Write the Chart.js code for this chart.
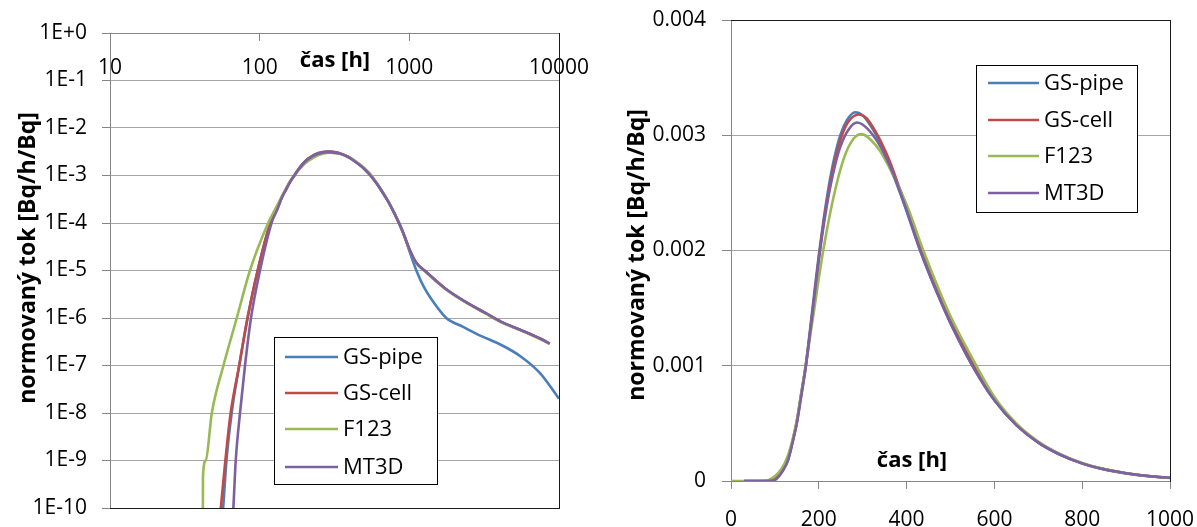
<!DOCTYPE html>
<html><head><meta charset="utf-8">
<script src="https://cdn.jsdelivr.net/npm/chart.js@4.4.1/dist/chart.umd.min.js"></script>
<style>
html,body{margin:0;padding:0;background:#fff;}
#wrap{position:relative;width:1197px;height:527px;overflow:hidden;background:#fff;}
#c1{position:absolute;left:0;top:0;}
#c2{position:absolute;left:600px;top:0;}
</style></head><body>
<div id="wrap"><canvas id="c1" width="600" height="527"></canvas><canvas id="c2" width="597" height="527"></canvas></div>
<script>
// ---------- data ----------
const seriesNames = ['GS-pipe', 'GS-cell', 'F123', 'MT3D'];

const tPipe = [30, 50, 57, 60, 65, 73, 83, 97, 118, 130, 141, 150, 160, 170, 180, 190, 200, 211, 222, 234, 249, 264, 283, 302, 325, 340, 360, 385, 400, 431, 473, 500, 550, 600, 650, 700, 750, 800, 850, 900, 950, 1000, 1114, 1250, 1402, 1765, 2268, 3055, 4120, 5550, 7470, 10000];
const vPipe = [0, 1e-12, 1e-10, 1e-9, 1e-8, 1e-7, 1e-6, 1e-5, 1e-4, 1.9e-4, 3.6e-4, 5.2e-4, 7.6e-4, 1.0e-3, 1.31e-3, 1.64e-3, 1.96e-3, 2.27e-3, 2.54e-3, 2.78e-3, 3.0e-3, 3.13e-3, 3.2e-3, 3.165e-3, 3.04e-3, 2.93e-3, 2.75e-3, 2.5e-3, 2.34e-3, 2.0e-3, 1.6e-3, 1.37e-3, 1.0e-3, 7.0e-4, 4.85e-4, 3.33e-4, 2.27e-4, 1.52e-4, 1.01e-4, 6.6e-5, 4.2e-5, 2.6e-5, 1.0e-5, 4.5e-6, 2.5e-6, 1.0e-6, 6.6e-7, 4.1e-7, 2.7e-7, 1.55e-7, 6.9e-8, 2.0e-8];

const tCell = [30, 48, 55, 59, 64, 73, 83, 97, 118, 130, 141, 150, 160, 170, 180, 190, 200, 212, 224, 236, 251, 266, 291, 308, 328, 342, 362, 386, 402, 432, 474, 502, 552, 600, 650, 700, 750, 800, 850, 900, 950, 1000, 1114, 1265, 1720, 2337, 3245, 4120, 5550, 7470, 8670];
const vCell = [0, 1e-12, 1e-10, 1e-9, 1e-8, 1e-7, 1e-6, 1e-5, 1e-4, 1.9e-4, 3.55e-4, 5.1e-4, 7.5e-4, 9.9e-4, 1.29e-3, 1.61e-3, 1.93e-3, 2.27e-3, 2.54e-3, 2.77e-3, 2.98e-3, 3.11e-3, 3.18e-3, 3.15e-3, 3.04e-3, 2.94e-3, 2.77e-3, 2.52e-3, 2.36e-3, 2.02e-3, 1.62e-3, 1.38e-3, 1.01e-3, 7.1e-4, 4.9e-4, 3.37e-4, 2.3e-4, 1.54e-4, 1.03e-4, 6.8e-5, 4.35e-5, 2.85e-5, 1.45e-5, 1.0e-5, 4.3e-6, 2.26e-6, 1.26e-6, 8.3e-7, 5.6e-7, 3.7e-7, 2.9e-7];

const tF123 = [0, 41.6, 41.8, 43.6, 47.9, 57.3, 70.3, 86.1, 114, 130, 141, 150, 160, 170, 180, 190, 200, 211, 234, 257, 279, 298, 321, 340, 362, 388, 404, 436, 478, 505, 556, 600, 650, 700, 750, 800, 850, 900, 950, 1000, 1114, 1265, 1720, 2337, 3245, 4120, 5550, 7470, 8670];
const vF123 = [0, 1e-12, 4.6e-10, 1e-9, 1e-8, 1e-7, 1e-6, 1e-5, 1e-4, 2.25e-4, 3.7e-4, 5.3e-4, 7.6e-4, 9.9e-4, 1.25e-3, 1.5e-3, 1.76e-3, 2.02e-3, 2.47e-3, 2.8e-3, 2.97e-3, 3.01e-3, 2.95e-3, 2.86e-3, 2.71e-3, 2.5e-3, 2.36e-3, 2.02e-3, 1.62e-3, 1.39e-3, 1.02e-3, 7.3e-4, 5.0e-4, 3.42e-4, 2.33e-4, 1.56e-4, 1.04e-4, 6.8e-5, 4.35e-5, 2.85e-5, 1.42e-5, 9.8e-6, 4.2e-6, 2.2e-6, 1.23e-6, 8.1e-7, 5.5e-7, 3.6e-7, 2.85e-7];

const tMT3D = [30, 60, 66.7, 69.2, 73.9, 79.8, 87.5, 100.5, 120, 130, 141, 150, 160, 170, 180, 190, 200, 212, 224, 237, 249, 268, 287, 310, 336, 360, 385, 400, 431, 473, 500, 550, 600, 650, 700, 750, 800, 850, 900, 950, 1000, 1114, 1265, 1720, 2337, 3245, 4120, 5550, 7470, 8670];
const vMT3D = [0, 1e-12, 1e-10, 1e-9, 1e-8, 1e-7, 1e-6, 1e-5, 1e-4, 1.8e-4, 3.45e-4, 5.0e-4, 7.35e-4, 9.8e-4, 1.28e-3, 1.6e-3, 1.92e-3, 2.24e-3, 2.51e-3, 2.74e-3, 2.9e-3, 3.05e-3, 3.11e-3, 3.06e-3, 2.93e-3, 2.75e-3, 2.51e-3, 2.35e-3, 2.0e-3, 1.6e-3, 1.37e-3, 1.0e-3, 7.0e-4, 4.85e-4, 3.33e-4, 2.28e-4, 1.53e-4, 1.02e-4, 6.8e-5, 4.35e-5, 2.85e-5, 1.45e-5, 1.0e-5, 4.3e-6, 2.26e-6, 1.26e-6, 8.3e-7, 5.6e-7, 3.7e-7, 2.9e-7];

// tick values / labels
const logXTicks = [10, 100, 1000, 10000];
const logXTickLabels = ['10', '100', '1000', '10000'];
const logYTicks = [1, 1e-1, 1e-2, 1e-3, 1e-4, 1e-5, 1e-6, 1e-7, 1e-8, 1e-9, 1e-10];
const logYTickLabels = ['1E+0', '1E-1', '1E-2', '1E-3', '1E-4', '1E-5', '1E-6', '1E-7', '1E-8', '1E-9', '1E-10'];
const linXTicks = [0, 200, 400, 600, 800, 1000];
const linXTickLabels = ['0', '200', '400', '600', '800', '1000'];
const linYTicks = [0, 0.001, 0.002, 0.003, 0.004];
const linYTickLabels = ['0', '0.001', '0.002', '0.003', '0.004'];

const xTitle = 'čas [h]';
const yTitle = 'normovaný tok [Bq/h/Bq]';

// ---------- styles ----------
const seriesColors = ['#4A7EBB', '#BE4B48', '#98B954', '#7D60A0'];
const FONT = '"Open Sans", sans-serif';
Chart.defaults.font.family = FONT;
Chart.defaults.color = '#000';

const seriesT = [tPipe, tCell, tF123, tMT3D];
const seriesV = [vPipe, vCell, vF123, vMT3D];

function makeDatasets(logMode) {
  return seriesNames.map((name, i) => {
    let pts = seriesT[i].map((t, j) => ({ x: t, y: seriesV[i][j] }));
    if (logMode) pts = pts.filter(p => p.x > 0 && p.y > 0);
    return {
      label: name,
      data: pts,
      borderColor: seriesColors[i],
      backgroundColor: seriesColors[i],
      borderWidth: 2.6,
      pointRadius: 0,
      fill: false,
      tension: 0.4,
      cubicInterpolationMode: 'monotone',
      order: seriesNames.length - i
    };
  });
}

function noPad(s) { s.paddingTop = 0; s.paddingBottom = 0; s.paddingLeft = 0; s.paddingRight = 0; }

const overlay = {
  id: 'overlay',
  beforeDatasetsDraw(chart, args, o) {
    const { ctx, chartArea: a } = chart;
    ctx.save();
    ctx.strokeStyle = '#1a1a1a';
    ctx.lineWidth = 1;
    ctx.beginPath();
    (o.frame || []).forEach(s => {
      if (s === 'right') { const x = Math.round(a.right) + 0.5; ctx.moveTo(x, a.top); ctx.lineTo(x, a.bottom + 1); }
      if (s === 'bottom') { const y = Math.round(a.bottom) + 0.5; ctx.moveTo(a.left, y); ctx.lineTo(a.right + 1, y); }
      if (s === 'top') { const y = Math.round(a.top) + 0.5; ctx.moveTo(a.left, y); ctx.lineTo(a.right + 1, y); }
    });
    ctx.stroke();
    ctx.restore();
  },
  afterDraw(chart, args, o) {
    const { ctx } = chart;
    ctx.save();
    ctx.fillStyle = '#000';
    ctx.font = 'bold ' + o.xTitle.size + 'px ' + FONT;
    ctx.textAlign = 'center';
    ctx.textBaseline = 'alphabetic';
    ctx.fillText(o.xTitle.text, o.xTitle.x, o.xTitle.y);
    ctx.save();
    ctx.translate(o.yTitle.x, o.yTitle.y);
    ctx.rotate(-Math.PI / 2);
    ctx.font = 'bold ' + o.yTitle.size + 'px ' + FONT;
    ctx.textAlign = 'center';
    ctx.textBaseline = 'middle';
    ctx.fillText(o.yTitle.text, 0, 0);
    ctx.restore();
    const L = o.legend;
    ctx.fillStyle = '#fff';
    ctx.fillRect(L.x, L.y, L.w, L.h);
    ctx.strokeStyle = '#000';
    ctx.lineWidth = 1;
    ctx.strokeRect(L.x + 0.5, L.y + 0.5, L.w, L.h);
    ctx.font = L.size + 'px ' + FONT;
    ctx.textAlign = 'left';
    ctx.textBaseline = 'middle';
    chart.data.datasets.forEach((ds, i) => {
      const y = L.rows[i];
      ctx.strokeStyle = ds.borderColor;
      ctx.lineWidth = 2.6;
      ctx.beginPath();
      ctx.moveTo(L.x1, y);
      ctx.lineTo(L.x2, y);
      ctx.stroke();
      ctx.fillStyle = '#000';
      ctx.fillText(ds.label, L.tx, y + 1);
    });
    ctx.restore();
  }
};

const GRID = '#a6a6a6';
const AXIS = '#868686';
const TICKFONT = { size: 21, lineHeight: 1.2 };

// ---------- left chart (log-log) ----------
new Chart(document.getElementById('c1'), {
  type: 'line',
  data: { datasets: makeDatasets(true) },
  plugins: [overlay],
  options: {
    responsive: false,
    animation: false,
    devicePixelRatio: 1,
    layout: { padding: { left: 0, top: 33, right: 41, bottom: 19 } },
    plugins: {
      legend: { display: false },
      tooltip: { enabled: false },
      overlay: {
        frame: ['right', 'bottom'],
        xTitle: { text: xTitle, x: 335, y: 67, size: 22 },
        yTitle: { text: yTitle, x: 28, y: 258, size: 23 },
        legend: { x: 274, y: 337, w: 163, h: 147, rows: [357, 393, 429, 467], x1: 285, x2: 338, tx: 343, size: 22 }
      }
    },
    scales: {
      x: {
        type: 'logarithmic', min: 10, max: 10000, position: { y: 1 },
        afterBuildTicks: s => { s.ticks = logXTicks.map(v => ({ value: v })); },
        afterFit: s => { noPad(s); },
        ticks: { autoSkip: false, maxRotation: 0, padding: 15, font: TICKFONT, color: '#000',
                 callback: v => logXTickLabels[logXTicks.indexOf(v)] },
        grid: { drawOnChartArea: false, drawTicks: true, tickLength: 7, color: AXIS, tickColor: AXIS },
        border: { display: true, color: AXIS }
      },
      y: {
        type: 'logarithmic', min: 1e-10, max: 1, position: 'left',
        afterBuildTicks: s => { s.ticks = logYTicks.map(v => ({ value: v })); },
        afterFit: s => { s.width = 110; noPad(s); },
        ticks: { autoSkip: false, padding: 15, font: TICKFONT, color: '#000',
                 callback: v => logYTickLabels[logYTicks.indexOf(v)] },
        grid: { color: GRID, tickColor: AXIS, tickLength: 8, drawTicks: true },
        border: { display: true, color: AXIS }
      }
    }
  }
});

// ---------- right chart (linear) ----------
new Chart(document.getElementById('c2'), {
  type: 'line',
  data: { datasets: makeDatasets(false) },
  plugins: [overlay],
  options: {
    responsive: false,
    animation: false,
    devicePixelRatio: 1,
    layout: { padding: { left: 0, top: 20, right: 27, bottom: 0 } },
    plugins: {
      legend: { display: false },
      tooltip: { enabled: false },
      overlay: {
        frame: ['top', 'right'],
        xTitle: { text: xTitle, x: 312, y: 467, size: 22 },
        yTitle: { text: yTitle, x: 37, y: 255, size: 23 },
        legend: { x: 376, y: 65, w: 161, h: 147, rows: [83, 120, 156, 193], x1: 388, x2: 439, tx: 444, size: 22 }
      }
    },
    scales: {
      x: {
        type: 'linear', min: 0, max: 1000, position: 'bottom',
        afterBuildTicks: s => { s.ticks = linXTicks.map(v => ({ value: v })); },
        afterFit: s => { s.height = 46; noPad(s); },
        ticks: { autoSkip: false, maxRotation: 0, padding: 18, font: TICKFONT, color: '#000',
                 callback: v => linXTickLabels[linXTicks.indexOf(v)] },
        grid: { drawOnChartArea: false, drawTicks: true, tickLength: 8, color: AXIS, tickColor: AXIS },
        border: { display: true, color: AXIS }
      },
      y: {
        type: 'linear', min: 0, max: 0.004, position: 'left',
        afterBuildTicks: s => { s.ticks = linYTicks.map(v => ({ value: v })); },
        afterFit: s => { s.width = 131; noPad(s); },
        ticks: { autoSkip: false, padding: 16, font: TICKFONT, color: '#000',
                 callback: v => linYTickLabels[linYTicks.indexOf(v)] },
        grid: { color: GRID, tickColor: AXIS, tickLength: 9, drawTicks: true },
        border: { display: true, color: AXIS }
      }
    }
  }
});
</script>
</body></html>
